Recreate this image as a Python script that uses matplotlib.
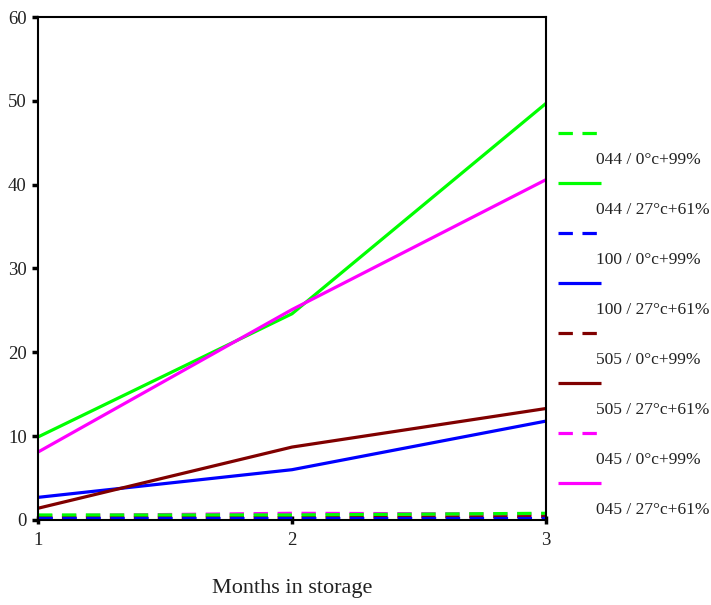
import matplotlib
matplotlib.use("Agg")
import matplotlib.pyplot as plt
from matplotlib.lines import Line2D

plt.rcParams['font.family'] = ['Liberation Serif', 'DejaVu Serif']

months = [1, 2, 3]
labels = ["044 / 0°c+99%", "044 / 27°c+61%",
          "100 / 0°c+99%", "100 / 27°c+61%",
          "505 / 0°c+99%", "505 / 27°c+61%",
          "045 / 0°c+99%", "045 / 27°c+61%"]
values = [
    [0.6, 0.6, 0.8],     # 044 cold
    [9.9, 24.6, 49.7],   # 044 warm
    [0.2, 0.2, 0.2],     # 100 cold
    [2.7, 6.0, 11.8],    # 100 warm
    [0.3, 0.3, 0.4],     # 505 cold
    [1.4, 8.7, 13.3],    # 505 warm
    [0.5, 0.8, 0.7],     # 045 cold
    [8.1, 25.1, 40.6],   # 045 warm
]
colors = ["#00ff00", "#00ff00", "#0000ff", "#0000ff",
          "#800000", "#800000", "#ff00ff", "#ff00ff"]
styles = ["--", "-", "--", "-", "--", "-", "--", "-"]
txt = "#222222"

fig = plt.figure(figsize=(7.11, 6.05), dpi=100)
ax = fig.add_axes([0.0534, 0.1405, 0.7146, 0.8314])

# warm lines first, cold (dashed) ones on top near zero
order = [1, 3, 5, 7, 6, 4, 0, 2]
for i in order:
    ln, = ax.plot(months, values[i], color=colors[i], lw=2.3, ls=styles[i],
                  solid_capstyle='butt')
    if styles[i] == "--":
        ln.set_dashes((4.5, 3))

ax.set_xlim(1, 3)
ax.set_ylim(0, 60)
ax.set_xticks([1, 2, 3])
ax.set_yticks(range(0, 61, 10))
ax.tick_params(axis='y', direction='out', length=4, width=2.5, labelsize=13.5,
               pad=4, color='black', labelcolor=txt)
ax.tick_params(axis='x', direction='inout', length=6, width=2.5, labelsize=13.5,
               pad=6, labelcolor=txt)
for s in ax.spines.values():
    s.set_linewidth(1.5)
ax.set_xlabel("Months in storage", fontsize=16, labelpad=21, color=txt)

# legend: each handle, then its label half a row below (as in the original)
y0 = 1 - 133 / 605
step = 50 / 605
for i in range(len(labels)):
    y = y0 - i * step
    h = Line2D([558 / 711, 601 / 711], [y, y], transform=fig.transFigure,
               color=colors[i], lw=2.3, ls=styles[i], solid_capstyle='butt')
    if styles[i] == "--":
        h.set_dashes((4.5, 3))
    fig.add_artist(h)
    fig.text(596 / 711, y - 27 / 605, labels[i], fontsize=12.5, va='center',
             ha='left', color=txt)

fig.savefig("out.png", dpi=100)
